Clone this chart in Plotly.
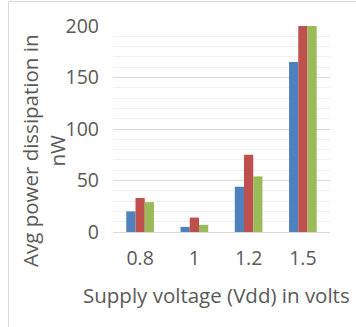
import plotly.graph_objects as go

categories = ["0.8", "1", "1.2", "1.5"]
series_a = [20, 5, 44, 165]
series_b = [33, 14, 75, 200]
series_c = [29, 7, 54, 200]
colors = ["#4F81BD", "#C0504D", "#9BBB59"]

W, H = 356, 327
L, R, T, B = 113, 26, 26, 95
pw, ph = W - L - R, H - T - B

def px_x(x):
    return (x - L) / pw

def px_y(y):
    return (H - B - y) / ph

fig = go.Figure()
for vals, col in zip([series_a, series_b, series_c], colors):
    fig.add_trace(go.Bar(x=categories, y=vals, marker=dict(color=col, line=dict(width=0))))

font_fam = "Open Sans, Liberation Sans, sans-serif"
grey = "#595959"

fig.update_layout(
    width=W, height=H,
    margin=dict(l=L, r=R, t=T, b=B, autoexpand=False),
    paper_bgcolor="white", plot_bgcolor="white",
    showlegend=False,
    barmode="group", bargap=0.49, bargroupgap=0,
    font=dict(family=font_fam, color=grey, size=19),
    xaxis=dict(showline=True, linecolor="#d9d9d9", linewidth=1, ticks="", automargin=False,
               tickfont=dict(size=19.5, color=grey), ticklabelstandoff=9),
    yaxis=dict(range=[0, 200], dtick=50, showgrid=True, gridcolor="#d9d9d9", gridwidth=1,
               zeroline=False, ticks="", tickfont=dict(size=19.5, color=grey), automargin=False,
               ticklabelstandoff=13,
               minor=dict(dtick=10, showgrid=True, gridcolor="#f0f0f0", gridwidth=1)),
    annotations=[
        dict(text="Avg power dissipation in<br>nW", textangle=-90, xref="paper", yref="paper",
             x=px_x(43), y=px_y(151), xanchor="center", yanchor="middle", showarrow=False,
             font=dict(size=20.5, color=grey, family=font_fam)),
        dict(text="Supply voltage (Vdd) in volts", xref="paper", yref="paper",
             x=px_x(216), y=px_y(295), xanchor="center", yanchor="middle", showarrow=False,
             font=dict(size=20.5, color=grey, family=font_fam)),
    ],
    shapes=[
        dict(type="line", xref="paper", yref="paper", x0=px_x(8.5), x1=px_x(8.5),
             y0=px_y(1.5), y1=px_y(327), line=dict(color="#d9d9d9", width=1)),
        dict(type="line", xref="paper", yref="paper", x0=px_x(8.5), x1=px_x(356),
             y0=px_y(1.5), y1=px_y(1.5), line=dict(color="#d9d9d9", width=1)),
    ],
)

fig.write_html("out.html", config={"displayModeBar": False},
               post_script="document.body.style.margin='0';document.body.style.overflow='hidden';")
